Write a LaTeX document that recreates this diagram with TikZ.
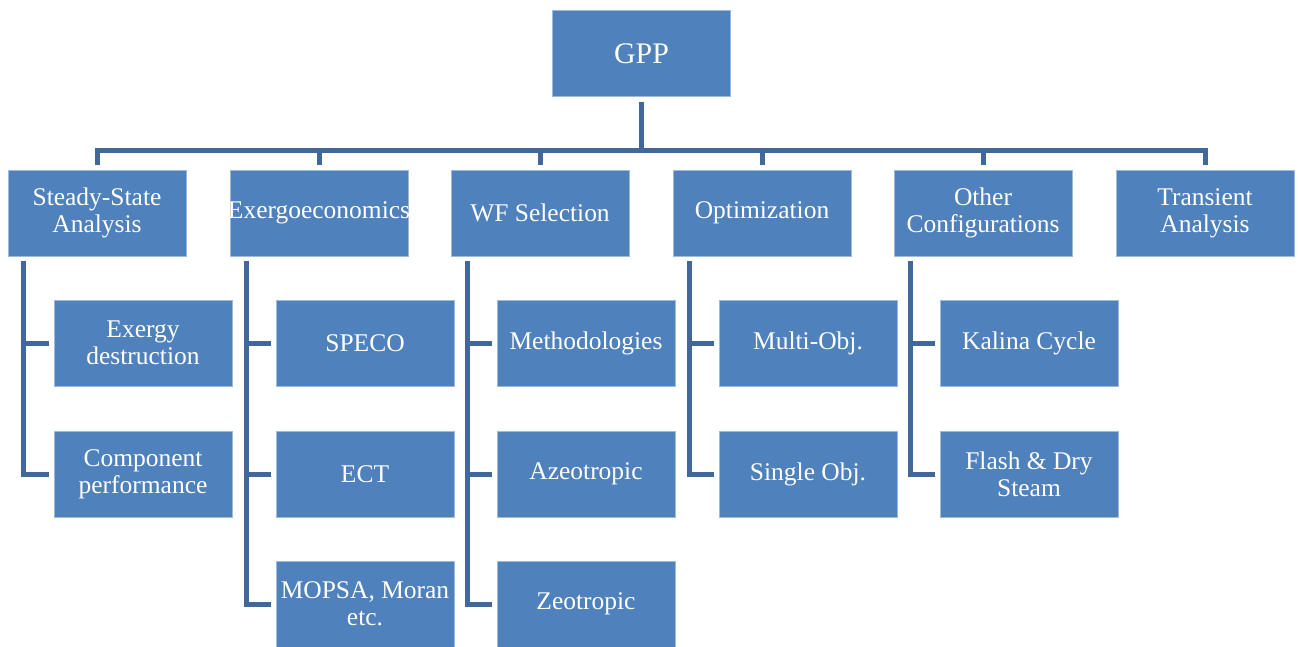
\documentclass[tikz,border=0pt]{standalone}
\usepackage{fontspec}
\setmainfont{Liberation Serif}
\usepackage{tikz}
\usetikzlibrary{positioning}

\definecolor{boxblue}{RGB}{79,129,189}
\definecolor{linkblue}{RGB}{65,104,154}

\tikzset{
	gbox/.style={draw=boxblue!55!white, line width=0.4pt, fill=boxblue, text=white,
		minimum width=35.6mm, minimum height=17.2mm, inner sep=0pt, outer sep=1mm,
		align=center, font=\fontsize{14.5}{15.2}\selectfont},
	topbox/.style={gbox, font=\fontsize{17}{18}\selectfont},
	link/.style={draw=linkblue, line width=1mm, line join=miter}
}

\begin{document}
\begin{tikzpicture}[x=0.2mm,y=-0.2mm]
\useasboundingbox (0,0) rectangle (1298,646);

% root
\node[topbox] (gpp) at (641.5,53.5) {GPP};
\coordinate (bus) at (641.5,150);

% first level
\node[gbox] (ssa) at (97,213) {Steady-State\\Analysis};
\node[gbox] (exe) at (319,213) {\makebox[0pt]{Exergoeconomics}}; % text runs past the box
\node[gbox] (wfs) at (540,213) {WF Selection};
\node[gbox] (opt) at (762,213) {Optimization};
\node[gbox] (oth) at (983,213) {Other\\Configurations};
\node[gbox] (tra) at (1205,213) {Transient\\Analysis};

% second level
\node[gbox] (exd) at (143,343) {Exergy\\destruction};
\node[gbox] (cmp) at (143,474) {Component\\performance};
\node[gbox] (spe) at (365,343) {SPECO};
\node[gbox] (ect) at (365,474) {ECT};
\node[gbox] (mop) at (365,604) {MOPSA, Moran\\etc.};
\node[gbox] (met) at (586,343) {Methodologies};
\node[gbox] (aze) at (586,474) {Azeotropic};
\node[gbox] (zeo) at (586,604) {Zeotropic};
\node[gbox] (mob) at (808,343) {Multi-Obj.};
\node[gbox] (sob) at (808,474) {Single Obj.};
\node[gbox] (kal) at (1029,343) {Kalina Cycle};
\node[gbox] (fds) at (1029,474) {Flash \& Dry\\Steam};

% root to first level
\draw[link] (gpp.south) -- (bus);
\draw[link] (ssa.north) |- (bus) -| (tra.north);
\foreach \n in {exe,wfs,opt,oth}
	\draw[link] (bus -| \n.north) -- (\n.north);

% first level to second level
\draw[link] ([xshift=-5mm]exd.west |- ssa.south) |- (cmp.west);
\draw[link] ([xshift=-5mm]exd.west) -- (exd.west);
\draw[link] ([xshift=-5mm]spe.west |- exe.south) |- (mop.west);
\foreach \n in {spe,ect}
	\draw[link] ([xshift=-5mm]\n.west) -- (\n.west);
\draw[link] ([xshift=-5mm]met.west |- wfs.south) |- (zeo.west);
\foreach \n in {met,aze}
	\draw[link] ([xshift=-5mm]\n.west) -- (\n.west);
\draw[link] ([xshift=-5mm]mob.west |- opt.south) |- (sob.west);
\draw[link] ([xshift=-5mm]mob.west) -- (mob.west);
\draw[link] ([xshift=-5mm]kal.west |- oth.south) |- (fds.west);
\draw[link] ([xshift=-5mm]kal.west) -- (kal.west);
\end{tikzpicture}
\end{document}
